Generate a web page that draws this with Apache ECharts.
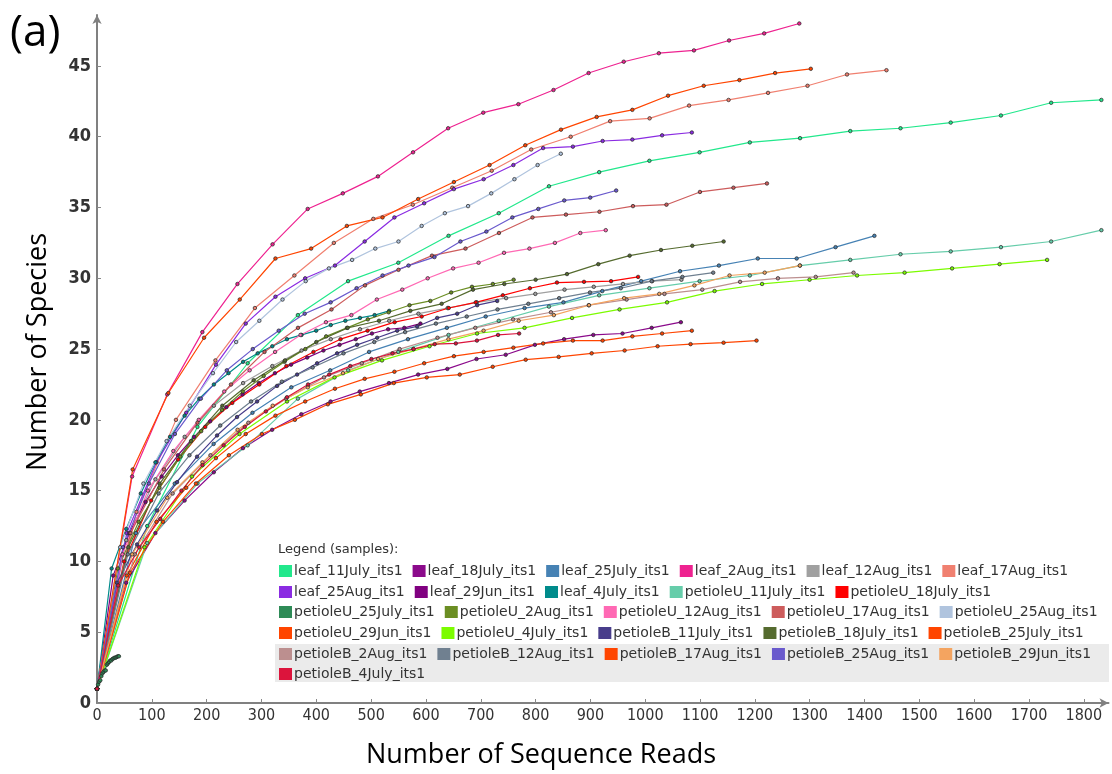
<!DOCTYPE html>
<html>
<head>
<meta charset="utf-8">
<script src="https://cdn.jsdelivr.net/npm/echarts@6.0.0/dist/echarts.min.js"></script>
<style>
html,body{margin:0;padding:0;background:#fff;}
#chart{width:1112px;height:774px;}
</style>
</head>
<body>
<div id="chart"></div>
<script>
// ---------- DATA ----------
// sample names in legend order
const sampleNames = [
  'leaf_11July_its1','leaf_18July_its1','leaf_25July_its1','leaf_2Aug_its1','leaf_12Aug_its1','leaf_17Aug_its1',
  'leaf_25Aug_its1','leaf_29Jun_its1','leaf_4July_its1','petioleU_11July_its1','petioleU_18July_its1',
  'petioleU_25July_its1','petioleU_2Aug_its1','petioleU_12Aug_its1','petioleU_17Aug_its1','petioleU_25Aug_its1',
  'petioleU_29Jun_its1','petioleU_4July_its1','petioleB_11July_its1','petioleB_18July_its1','petioleB_25July_its1',
  'petioleB_2Aug_its1','petioleB_12Aug_its1','petioleB_17Aug_its1','petioleB_25Aug_its1','petioleB_29Jun_its1',
  'petioleB_4July_its1'
];
// maximum sequence reads of each sample (last rarefaction depth), same order
const maxReads = [1832,1065,1418,1281,1066,1440, 1085,590,533,1832,987, 40,760,928,1222,846, 1302,1733,730,1143,1085, 1380,1124,1203,947,1282, 770];
// number of rarefaction steps (depths i*max/steps, i = 0..steps)
const rarefactionSteps = 20;

// observed species at each rarefaction depth
const leaf_11July = [1,12.5,19.5,24.0,27.4,29.8,31.1,33.0,34.6,36.5,37.5,38.3,38.9,39.6,39.9,40.4,40.6,41.0,41.5,42.4,42.6];
const leaf_18July = [1,8.5,12.0,14.3,16.3,18.0,19.3,20.4,21.3,22.0,22.6,23.2,23.6,24.3,24.6,25.3,25.7,26.0,26.1,26.5,26.9];
const leaf_25July = [1,12.0,15.5,18.3,20.5,22.3,23.5,24.8,25.7,26.5,27.3,27.9,28.3,29.1,29.8,30.5,30.9,31.4,31.4,32.2,33.0];
const leaf_2Aug = [1,16.0,21.8,26.2,29.6,32.4,34.9,36.0,37.2,38.9,40.6,41.7,42.3,43.3,44.5,45.3,45.9,46.1,46.8,47.3,48.0];
const leaf_12Aug = [1,11.5,15.8,18.8,21.0,22.6,23.8,24.9,25.7,26.4,27.0,27.5,27.9,28.3,28.6,28.9,29.2,29.4,29.6,29.8,29.9];
const leaf_17Aug = [1,13.5,20.0,24.2,27.9,30.2,32.5,34.2,35.2,36.4,37.6,39.1,40.0,41.1,41.3,42.2,42.6,43.1,43.6,44.4,44.7];
const leaf_25Aug = [1,12.0,17.0,20.5,23.9,26.8,28.7,30.0,30.9,32.6,34.3,35.3,36.3,37.0,38.0,39.2,39.3,39.7,39.8,40.1,40.3];
const leaf_29Jun = [1,9.0,12.0,14.2,16.0,17.5,18.8,19.9,20.9,21.8,22.6,23.3,23.9,24.4,24.9,25.3,25.7,26.1,26.4,26.5,26.8];
const leaf_4July = [1,9.5,12.3,14.8,17.0,18.8,20.3,21.5,22.5,23.3,24.1,24.7,25.2,25.7,26.0,26.3,26.7,27.0,27.2,27.4,27.7];
const petioleU_11July = [1,11.3,15.5,18.2,21.5,23.5,24.8,26.0,27.0,28.0,28.8,29.3,29.8,30.2,30.9,31.3,31.7,31.9,32.2,32.6,33.4];
const petioleU_18July = [1,10.0,14.3,17.2,19.5,21.2,22.5,23.8,24.8,25.7,26.3,26.9,27.3,27.9,28.3,28.8,29.3,29.7,29.75,29.8,30.1];
const petioleU_25July = [1,1.3,1.5,1.6,1.9,2.1,2.2,2.3,2.3,2.7,2.8,2.9,3.0,3.0,3.1,3.15,3.2,3.2,3.25,3.3,3.3];
const petioleU_2Aug = [1,9.5,12.8,15.2,17.4,19.2,20.7,22.0,23.1,24.1,25.0,25.9,26.5,27.1,27.6,28.1,28.4,29.0,29.4,29.6,29.9];
const petioleU_12Aug = [1,10.5,15.0,17.8,20.0,22.0,23.5,24.8,26.0,26.9,27.4,28.5,29.2,30.0,30.7,31.1,31.8,32.1,32.5,33.2,33.4];
const petioleU_17Aug = [1,12.0,16.5,19.8,22.5,24.8,26.5,27.8,29.5,30.6,31.6,32.1,33.2,34.3,34.5,34.7,35.1,35.2,36.1,36.4,36.7];
const petioleU_25Aug = [1,11.0,15.5,18.5,21.0,23.3,25.5,27.0,28.5,29.8,30.7,31.3,32.1,32.6,33.7,34.6,35.1,36.0,37.0,38.0,38.8];
const petioleU_29Jun = [1,16.5,21.9,25.8,28.5,31.4,32.1,33.7,34.3,35.6,36.8,38.0,39.4,40.5,41.4,41.9,42.9,43.6,44.0,44.5,44.8];
const petioleU_4July = [1,11.0,16.0,19.0,21.3,23.0,24.2,25.2,26.1,26.5,27.2,27.8,28.3,29.1,29.6,29.9,30.2,30.4,30.7,31.0,31.3];
const petioleB_11July = [1,8.5,11.2,13.6,15.6,17.4,18.9,20.2,21.3,22.4,23.2,24.0,24.7,25.3,25.8,26.3,26.6,27.2,27.5,28.1,28.4];
const petioleB_18July = [1,11.0,15.5,18.5,21.0,22.8,24.2,25.5,26.5,27.0,27.7,28.2,29.2,29.6,29.9,30.3,31.0,31.6,32.0,32.3,32.6];
const petioleB_25July = [1,9.0,12.8,15.2,17.3,19.0,20.3,21.3,22.2,22.9,23.4,24.0,24.5,24.8,25.1,25.4,25.6,25.6,25.9,26.1,26.3];
const petioleB_2Aug = [1,10.5,14.8,17.5,19.8,21.5,23.0,24.0,25.0,25.8,26.5,27.1,27.6,28.1,28.5,28.9,29.2,29.75,30.0,30.1,30.4];
const petioleB_12Aug = [1,10.5,14.8,17.5,19.6,21.3,22.7,23.7,24.7,25.5,26.2,26.8,27.3,27.8,28.2,28.6,29.0,29.3,29.8,30.1,30.4];
const petioleB_17Aug = [1,9.2,12.8,15.5,17.5,19.0,20.0,21.1,21.8,22.6,23.0,23.2,23.75,24.25,24.45,24.7,24.9,25.2,25.35,25.45,25.6];
const petioleB_25Aug = [1,11.0,15.5,19.0,21.5,23.5,25.0,26.3,27.5,28.3,29.3,30.2,30.9,31.5,32.6,33.3,34.3,34.9,35.5,35.7,36.2];
const petioleB_29Jun = [1,10.5,14.5,17.0,19.3,21.0,22.3,23.3,24.3,25.0,25.7,26.3,27.0,27.4,28.1,28.6,28.9,29.5,30.2,30.4,30.9];
const petioleB_4July = [1,8.3,11.0,13.0,15.0,16.8,18.2,19.5,20.6,21.6,22.5,23.2,23.8,24.3,24.7,25.0,25.35,25.4,25.6,26.0,26.1];

const speciesValues = [
  leaf_11July, leaf_18July, leaf_25July, leaf_2Aug, leaf_12Aug, leaf_17Aug,
  leaf_25Aug, leaf_29Jun, leaf_4July, petioleU_11July, petioleU_18July,
  petioleU_25July, petioleU_2Aug, petioleU_12Aug, petioleU_17Aug, petioleU_25Aug,
  petioleU_29Jun, petioleU_4July, petioleB_11July, petioleB_18July, petioleB_25July,
  petioleB_2Aug, petioleB_12Aug, petioleB_17Aug, petioleB_25Aug, petioleB_29Jun,
  petioleB_4July
];

// tick labels
const xTickStep = 100;
const yTickStep = 5;

// legend rows (names as in the reference legend)
const legendRow1 = ['leaf_11July_its1','leaf_18July_its1','leaf_25July_its1','leaf_2Aug_its1','leaf_12Aug_its1','leaf_17Aug_its1'];
const legendRow2 = ['leaf_25Aug_its1','leaf_29Jun_its1','leaf_4July_its1','petioleU_11July_its1','petioleU_18July_its1'];
const legendRow3 = ['petioleU_25July_its1','petioleU_2Aug_its1','petioleU_12Aug_its1','petioleU_17Aug_its1','petioleU_25Aug_its1'];
const legendRow4 = ['petioleU_29Jun_its1','petioleU_4July_its1','petioleB_11July_its1','petioleB_18July_its1','petioleB_25July_its1'];
const legendRow5 = ['petioleB_2Aug_its1','petioleB_12Aug_its1','petioleB_17Aug_its1','petioleB_25Aug_its1','petioleB_29Jun_its1'];
const legendRow6 = ['petioleB_4July_its1'];

// ---------- STYLE ----------
const palette = [
  '#22e88c','#8b0a8b','#4682b4','#ee2290','#a0a0a0','#f08070',
  '#8a2be2','#800080','#008b8b','#66cdaa','#ff0000',
  '#2e8b57','#6b8e23','#ff69b4','#cd5c5c','#b0c4de',
  '#ff4500','#7cfc00','#483d8b','#556b2f','#ff4500',
  '#bc8f8f','#708090','#ff4500','#6a5acd','#f4a460',
  '#dc143c'
];

const series = sampleNames.map((name, s) => ({
  name: name,
  type: 'line',
  data: speciesValues[s].map((v, i) => [maxReads[s] * i / rarefactionSteps, v]),
  symbol: 'circle',
  symbolSize: 3.5,
  showSymbol: true,
  color: palette[s],
  lineStyle: { color: palette[s], width: 1.2 },
  itemStyle: { color: palette[s], borderColor: 'rgba(40,40,40,0.75)', borderWidth: 1 },
  emphasis: { disabled: true },
  animation: false,
  z: 2
}));

const legendRows = [legendRow1, legendRow2, legendRow3, legendRow4, legendRow5, legendRow6];
const legendTops = [570, 591, 611, 632, 653, 673];
const legends = legendRows.map((row, r) => ({
  data: row,
  orient: 'horizontal',
  left: 279,
  top: legendTops[r] - 6,
  width: 900,
  itemWidth: 13,
  itemHeight: 12,
  itemGap: 10,
  icon: 'rect',
  selectedMode: false,
  padding: 0,
  itemStyle: { borderWidth: 0 },
  textStyle: { fontFamily: 'DejaVu Sans', fontSize: 14, color: '#333', padding: [0, 0, 0, -3] },
  z: 10
}));

const narrow = "'Liberation Sans Narrow', 'DejaVu Sans Condensed', sans-serif";

const chart = echarts.init(document.getElementById('chart'), null, { renderer: 'canvas' });
chart.setOption({
  backgroundColor: '#ffffff',
  animation: false,
  grid: { left: 97, right: 3.5, top: 15, bottom: 71, containLabel: false },
  xAxis: {
    type: 'value',
    min: 0,
    max: 1845,
    interval: xTickStep,
    splitLine: { show: false },
    axisLine: { show: true, lineStyle: { color: '#808080', width: 2 }, symbol: ['none', 'arrow'], symbolSize: [7, 9] },
    axisTick: { show: true, inside: true, length: 4, lineStyle: { color: '#888' } },
    axisLabel: { showMaxLabel: false, margin: 5, color: '#333', fontFamily: narrow, fontSize: 16, formatter: v => String(v) }
  },
  yAxis: {
    type: 'value',
    min: 0,
    max: 48.6,
    interval: yTickStep,
    splitLine: { show: false },
    axisLine: { show: true, lineStyle: { color: '#808080', width: 2 }, symbol: ['none', 'arrow'], symbolSize: [7, 9] },
    axisTick: { show: true, inside: true, length: 4, lineStyle: { color: '#888' } },
    axisLabel: { showMaxLabel: false, margin: 6, color: '#333', fontFamily: narrow, fontWeight: 'bold', fontSize: 18, formatter: v => String(v) }
  },
  legend: legends,
  graphic: [
    { type: 'rect', left: 275, top: 644, shape: { width: 834, height: 38 }, style: { fill: '#ebebeb' }, z: 0, silent: true },
    { type: 'text', left: 278, top: 543, style: { text: 'Legend (samples):', font: '13px "DejaVu Sans"', fill: '#333' }, z: 10 },
    { type: 'text', x: 10, y: 33, style: { text: '(a)', font: '44px "Open Sans"', fill: '#000', verticalAlign: 'middle', align: 'left' }, z: 10 },
    { type: 'text', x: 38, y: 352, rotation: Math.PI / 2, style: { text: 'Number of Species', font: '27px "Open Sans"', fill: '#000', align: 'center', verticalAlign: 'middle' }, z: 10 },
    { type: 'text', x: 541, y: 755, style: { text: 'Number of Sequence Reads', font: '27px "Open Sans"', fill: '#000', align: 'center', verticalAlign: 'middle' }, z: 10 }
  ],
  series: series
});
</script>
</body>
</html>
